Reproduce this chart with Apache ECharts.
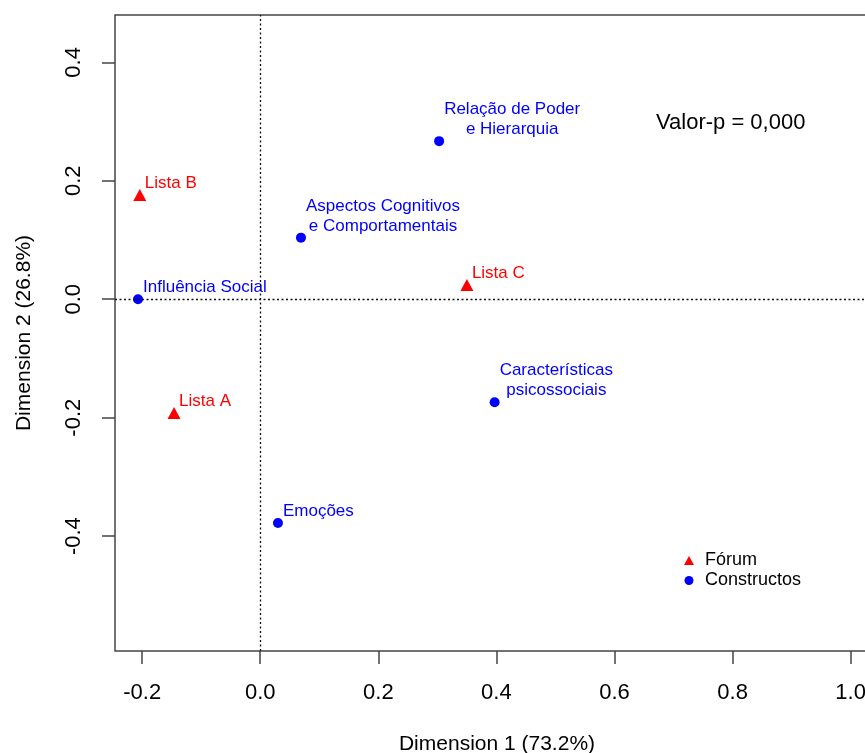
<!DOCTYPE html>
<html>
<head>
<meta charset="utf-8">
<script src="https://cdn.jsdelivr.net/npm/echarts@6/dist/echarts.min.js"></script>
<style>html,body{margin:0;padding:0;background:#fff}#c{width:865px;height:753px}</style>
</head>
<body>
<div id="c"></div>
<script>
// ---- data ----
const forumNames = ['Lista A', 'Lista B', 'Lista C'];
const forumX = [-0.146, -0.204, 0.350];
const forumY = [-0.192, 0.176, 0.024];

const constructNames = ['Influência Social', 'Aspectos Cognitivos\ne Comportamentais', 'Relação de Poder\ne Hierarquia', 'Características\npsicossociais', 'Emoções'];
const constructX = [-0.207, 0.069, 0.303, 0.397, 0.030];
const constructY = [0.000, 0.104, 0.267, -0.174, -0.378];

const xTicks = [-0.2, 0.0, 0.2, 0.4, 0.6, 0.8, 1.0];
const yTicks = [-0.4, -0.2, 0.0, 0.2, 0.4];
const legendNames = ['Fórum', 'Constructos'];
const xTitle = 'Dimension 1 (73.2%)';
const yTitle = 'Dimension 2 (26.8%)';
const noteText = 'Valor-p = 0,000';

// ---- styling ----
const FONT = 'Liberation Sans, Arial, sans-serif';
const LABEL_SIZE = 17;
const ctx = document.createElement('canvas').getContext('2d');
ctx.font = LABEL_SIZE + 'px ' + FONT;
function blockWidth(t) { return Math.max.apply(null, t.split('\n').map(s => ctx.measureText(s).width)); }

function makeData(xs, ys, names, color) {
  return xs.map((x, i) => ({
    value: [x, ys[i]],
    name: names[i],
    label: {
      show: true,
      formatter: '{b}',
      position: ['50%', '50%'],
      align: 'center',
      verticalAlign: 'bottom',
      offset: [5 + blockWidth(names[i]) / 2, -1.5],
      color: color,
      fontSize: LABEL_SIZE,
      lineHeight: 20,
      fontFamily: FONT
    }
  }));
}

const axisCommon = {
  type: 'value',
  splitLine: { show: false },
  axisLine: { show: false, onZero: false },
  axisTick: { show: true, length: 13, lineStyle: { color: '#444', width: 1.5 } },
  nameLocation: 'middle',
  nameTextStyle: { fontSize: 21, fontFamily: FONT, color: '#000' }
};

const chart = echarts.init(document.getElementById('c'), null, { renderer: 'canvas' });
chart.setOption({
  animation: false,
  backgroundColor: '#fff',
  grid: {
    left: 115, top: 15, right: -14, bottom: 102,
    show: true, borderColor: '#444', borderWidth: 1.5, backgroundColor: 'transparent',
    outerBoundsMode: 'none', containLabel: false
  },
  xAxis: Object.assign({}, axisCommon, {
    min: -0.246, max: 1.048,
    name: xTitle, nameGap: 83,
    axisTick: Object.assign({}, axisCommon.axisTick, { customValues: xTicks }),
    axisLabel: { customValues: xTicks, formatter: v => v.toFixed(1), fontSize: 22, fontFamily: FONT, color: '#000', margin: 31 }
  }),
  yAxis: Object.assign({}, axisCommon, {
    min: -0.594, max: 0.480,
    name: yTitle, nameGap: 80, nameRotate: 90,
    axisTick: Object.assign({}, axisCommon.axisTick, { customValues: yTicks }),
    axisLabel: { customValues: yTicks, rotate: 90, formatter: v => v.toFixed(1), fontSize: 22, fontFamily: FONT, color: '#000', margin: 30 }
  }),
  legend: {
    orient: 'vertical', left: 679, top: 545.5, itemGap: 0,
    itemWidth: 10, itemHeight: 9,
    textStyle: { fontSize: 18, fontFamily: FONT, color: '#000', lineHeight: 20, padding: [0, 0, 0, 6] },
    data: [
      { name: legendNames[0], icon: 'triangle', itemStyle: { color: '#FF0000', opacity: 1 } },
      { name: legendNames[1], icon: 'circle', itemStyle: { color: '#0000FF', opacity: 1 } }
    ]
  },
  graphic: [{
    type: 'text', left: 656, top: 112,
    style: { text: noteText, fontSize: 22, fontFamily: FONT, fill: '#000' }
  }],
  series: [
    {
      name: legendNames[0], type: 'scatter', symbol: 'triangle', symbolSize: [13, 12],
      itemStyle: { color: '#FF0000', opacity: 1 },
      data: makeData(forumX, forumY, forumNames, '#FF0000'),
      z: 3
    },
    {
      name: legendNames[1], type: 'scatter', symbol: 'circle', symbolSize: 10,
      itemStyle: { color: '#0000FF', opacity: 1 },
      data: makeData(constructX, constructY, constructNames, '#0000FF'),
      markLine: {
        silent: true, symbol: 'none', label: { show: false },
        lineStyle: { color: '#111', width: 1.3, type: [2, 2.5], opacity: 1 },
        data: [{ xAxis: 0 }, { yAxis: 0 }]
      },
      z: 3
    }
  ]
});
</script>
</body>
</html>
